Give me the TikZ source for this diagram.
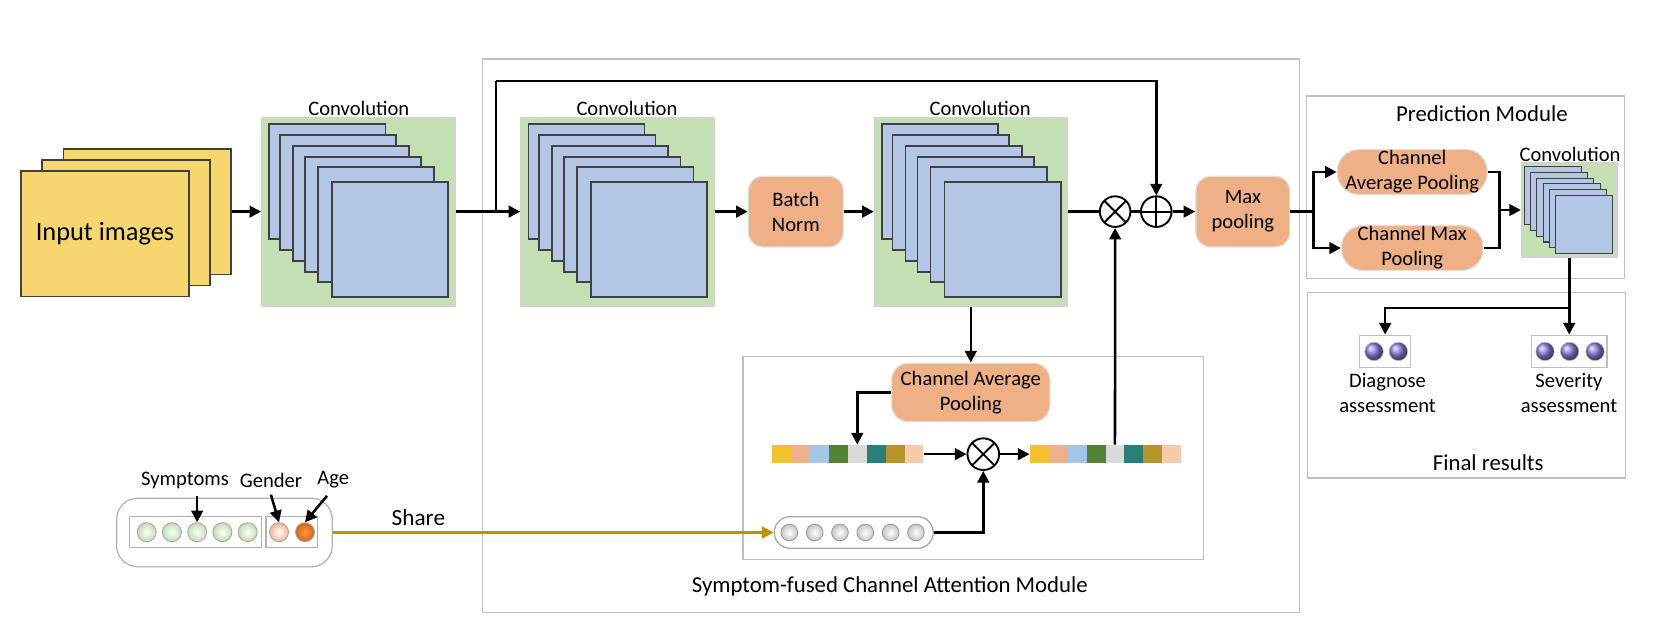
\documentclass[tikz,border=0pt]{standalone}
\usepackage{fontspec}
\setmainfont{Carlito}
\usetikzlibrary{arrows.meta,fit,calc}
\definecolor{inyellow}{HTML}{F8D66F}
\definecolor{convgreen}{HTML}{C5DFB5}
\definecolor{sheetblue}{HTML}{B4C6E6}
\definecolor{sheetedge}{HTML}{404040}
\definecolor{boxorange}{HTML}{EEB084}
\definecolor{framegray}{HTML}{BFBFBF}
\definecolor{sharegold}{HTML}{BF9000}
\definecolor{cA}{HTML}{F3C12B}
\definecolor{cB}{HTML}{EDB08B}
\definecolor{cC}{HTML}{A6C4E5}
\definecolor{cD}{HTML}{548235}
\definecolor{cE}{HTML}{D9D9D9}
\definecolor{cF}{HTML}{2A7E7A}
\definecolor{cG}{HTML}{B8922A}
\definecolor{cH}{HTML}{F6CBAA}
\definecolor{symgreen}{HTML}{BFDDB0}
\definecolor{gpink}{HTML}{F2B49A}
\definecolor{agedark}{HTML}{D0651E}
\definecolor{purp}{HTML}{8C7EDC}
\newcommand\mybigsheets[2]{%
  \foreach \dx/\dy in {7/6.5,17.3/17,29.6/27.3,41/37.7,53.3/47.2,66.5/61.4}
    {\draw[sheet] (#1+\dx,#2+\dy) rectangle ++(110,109);}}
\newcommand\mysmallsheets[2]{%
  \foreach \k in {0,...,5}
    {\draw[sheet,line width=0.5pt] (#1+2.5+6*\k,#2+3.3+5.5*\k) rectangle ++(54,55);}}
\begin{document}
\begin{tikzpicture}[x=0.5pt,y=-0.5pt,
  font=\fontsize{9.75}{11.8}\selectfont,
  arr/.style={line width=1.2pt,-{Triangle[length=5.5pt,width=5.5pt]}},
  ln/.style={line width=1.2pt},
  sheet/.style={draw=sheetedge,fill=sheetblue,line width=0.7pt},
  convbox/.style={draw=gray!35,fill=convgreen,inner sep=0pt,line width=0.6pt},
  frame/.style={draw=framegray,line width=0.6pt,inner sep=0pt},
  opbox/.style={draw=gray!25,fill=boxorange,align=center,rounded corners=7pt,line width=0.6pt,inner sep=1pt},
  inimg/.style={draw=black!75,fill=inyellow,minimum width=79.5pt,minimum height=59.5pt,line width=0.7pt},
  opcircle/.style={circle,draw=black,fill=white,minimum size=14.5pt,inner sep=0pt,line width=0.9pt},
  otimesnode/.style={opcircle,path picture={\draw[line width=0.9pt]
     (path picture bounding box.north west) -- (path picture bounding box.south east)
     (path picture bounding box.north east) -- (path picture bounding box.south west);}},
  oplusnode/.style={opcircle,path picture={\draw[line width=0.9pt]
     (path picture bounding box.north) -- (path picture bounding box.south)
     (path picture bounding box.east) -- (path picture bounding box.west);}},
  titletext/.style={font=\fontsize{10.8}{13}\selectfont},
  cell/.style={minimum width=8.95pt,minimum height=8.7pt,inner sep=0pt},
  gcirc/.style={circle,draw=gray!70,inner color=white,outer color=symgreen,minimum size=9pt,inner sep=0pt,line width=0.4pt},
  greycirc/.style={circle,draw=gray!80,inner color=white,outer color=gray!45,minimum size=7.9pt,inner sep=0pt,line width=0.4pt},
  pcirc/.style={circle,draw=gray!50,ball color=purp,minimum size=8.75pt,inner sep=0pt,line width=0.3pt}
]
\useasboundingbox (0,0) rectangle (1568,603);

% frames
\node[frame,fit={(457,56) (1231,580)}] (mod) {};
\node[frame,fit={(704,338) (1140,530)}] (att) {};
\node[frame,fit={(1238,91) (1539,264)}] (pred) {};
\node[frame,fit={(1239,277) (1540,453)}] (fin) {};
\node[titletext] (tmod) at (843,556) {Symptom-fused Channel Attention Module};
\node[titletext] (tpred) at (1404,108) {Prediction Module};
\node[titletext] (tfin) at (1410,438) {Final results};

% input images
\node[inimg] (in3) at (139.5,200.5) {};
\node[inimg] (in2) at (119.5,211) {};
\node[inimg,font=\fontsize{12.5}{15}\selectfont] (in1) at (99.5,221.5) {Input images};

% convolution blocks
\node[convbox,fit={(248,111) (431,290)}] (c1) {};
\mybigsheets{248}{111}
\node (lc1) at (340,102.5) {Convolution};
\node[convbox,fit={(493.5,111) (677,290)}] (c2) {};
\mybigsheets{493.5}{111}
\node (lc2) at (594,102.5) {Convolution};
\node[convbox,fit={(828.5,111) (1011,290)}] (c3) {};
\mybigsheets{828.5}{111}
\node (lc3) at (928.6,102.5) {Convolution};
\node[convbox,fit={(1441.5,154.5) (1532,243.5)}] (c4) {};
\mysmallsheets{1441.5}{154.5}
\node (lc4) at (1487.5,146) {Convolution};

% operation boxes
\node[opbox,minimum width=45pt,minimum height=33.5pt] (bn) at (754,200.5) {Batch\\Norm};
\node[opbox,minimum width=44.5pt,minimum height=33.5pt] (mp) at (1177.5,200.5) {Max\\pooling};
\node[opbox,rounded corners=10pt,minimum width=71pt,minimum height=21pt,inner sep=0.5pt] (cap) at (1338,163) {Channel\\Average Pooling};
\node[opbox,rounded corners=10pt,minimum width=67pt,minimum height=21pt,inner sep=0.5pt] (cmp) at (1338,235) {Channel Max\\Pooling};
\node[opbox,rounded corners=8pt,minimum width=75pt,minimum height=27.75pt] (cap2) at (919.75,371.8) {Channel Average\\Pooling};

\node[otimesnode] (ot1) at (1056.5,200.5) {};
\node[oplusnode] (op) at (1095.5,200.5) {};
\node[otimesnode,minimum size=15pt] (ot2) at (931.6,430.3) {};

% channel bars
\foreach \c [count=\i] in {cA,cB,cC,cD,cE,cF,cG,cH}{
  \node[cell,fill=\c] (b1-\i) at (731.7+17.9*\i-8.95,430.3) {};
  \node[cell,fill=\c] (b2-\i) at (975.8+17.9*\i-8.95,430.3) {};
}

% shared feature pill
\node[draw=gray!70,fill=white,rounded corners=7.5pt,inner sep=0pt,line width=0.6pt,fit={(733.6,489.5) (884.2,519.5)}] (pill) {};
\foreach \k in {0,...,5}{\node[greycirc] (s\k) at (747.8+24*\k,504.5) {};}

% clinical input
\node[draw=gray!60,rounded corners=10pt,inner sep=0pt,line width=0.6pt,fit={(110.5,472) (314.8,537)}] (lp) {};
\node[draw=gray!60,inner sep=0pt,line width=0.5pt,fit={(122.5,489.5) (248,519)}] (sb) {};
\node[draw=gray!60,inner sep=0pt,line width=0.5pt,fit={(252,489.5) (301,519)}] (gb) {};
\foreach \k in {1,...,5}{\node[gcirc] (g\k) at (139+23.9*\k-23.9,504.2) {};}
\node[circle,draw=gray!70,inner color=white,outer color=gpink,minimum size=9pt,inner sep=0pt,line width=0.4pt] (gp) at (264.3,504.2) {};
\node[circle,draw=gray!70,inner color=orange!80,outer color=agedark,minimum size=9pt,inner sep=0pt,line width=0.4pt] (ga) at (289,504.2) {};
\node (lsym) at (175.3,454.8) {Symptoms};
\node (lgen) at (256.7,454.8) {Gender};
\node (lage) at (315.8,454.8) {Age};
\node[font=\fontsize{11}{13}\selectfont] (sharelbl) at (396.4,490) {Share};

% results
\node[draw=gray!50,inner sep=0pt,line width=0.5pt,fit={(1288,317.5) (1336.6,348)}] (db) {};
\node[pcirc] (d1) at (1301.8,333) {};
\node[pcirc] (d2) at (1324.9,333) {};
\node[draw=gray!50,inner sep=0pt,line width=0.5pt,fit={(1451,317.5) (1522.5,348)}] (sv) {};
\node[pcirc] (v1) at (1463.8,333) {};
\node[pcirc] (v2) at (1487.1,333) {};
\node[pcirc] (v3) at (1511.2,333) {};
\node[align=center] (tdg) at (1314.6,372) {Diagnose\\assessment};
\node[align=center] (tsv) at (1486.5,372) {Severity\\assessment};

% connectors
\draw[arr] (in3.east) -- (c1.west);
\draw[arr] (c1.east) -- (c2.west);
\coordinate (sk) at (470,200.5);
\coordinate (sktop) at (470,76.7);
\draw[ln] (sk) -- (sktop);
\draw[arr] (sktop) -| (op.north);
\draw[arr] (c2.east) -- (bn.west);
\draw[arr] (bn.east) -- (c3.west);
\draw[ln] (c3.east) -- (ot1.west);
\draw[ln] (ot1.east) -- (op.west);
\draw[arr] (op.east) -- (mp.west);
\coordinate (br) at (1244.5,200.5);
\draw[ln] (mp.east) -- (br);
\draw[arr] (br) |- (cap.west);
\draw[arr] (br) |- (cmp.west);
\coordinate (jn) at (1420.5,199);
\draw[ln] (cap.east) -| (jn);
\draw[ln] (cmp.east) -| (jn);
\draw[arr] (jn) -- (c4.west);
\coordinate (sp) at (1486.75,292);
\draw[ln] (c4.south) -- (sp);
\draw[arr] (sp) -- (sv.north);
\draw[arr] (sp) -| (db.north);
\draw[arr] (c3.south) -- (cap2.north);
\draw[arr] (cap2.west) -| (b1-5.north);
\draw[arr] (b1-8.east) -- (ot2.west);
\draw[arr] (ot2.east) -- (b2-1.west);
\draw[arr] (b2-5.north) -- (ot1.south);
\draw[arr] (pill.east) -| (ot2.south);
\draw[arr,draw=sharegold] (lp.east) -- (pill.west);
\draw[arr] (lsym.south -| g3.north) -- (g3.north);
\draw[arr] (lgen.south) -- (gp.north);
\draw[arr] ([xshift=-3pt]lage.south) -- (ga.north);
\end{tikzpicture}
\end{document}
